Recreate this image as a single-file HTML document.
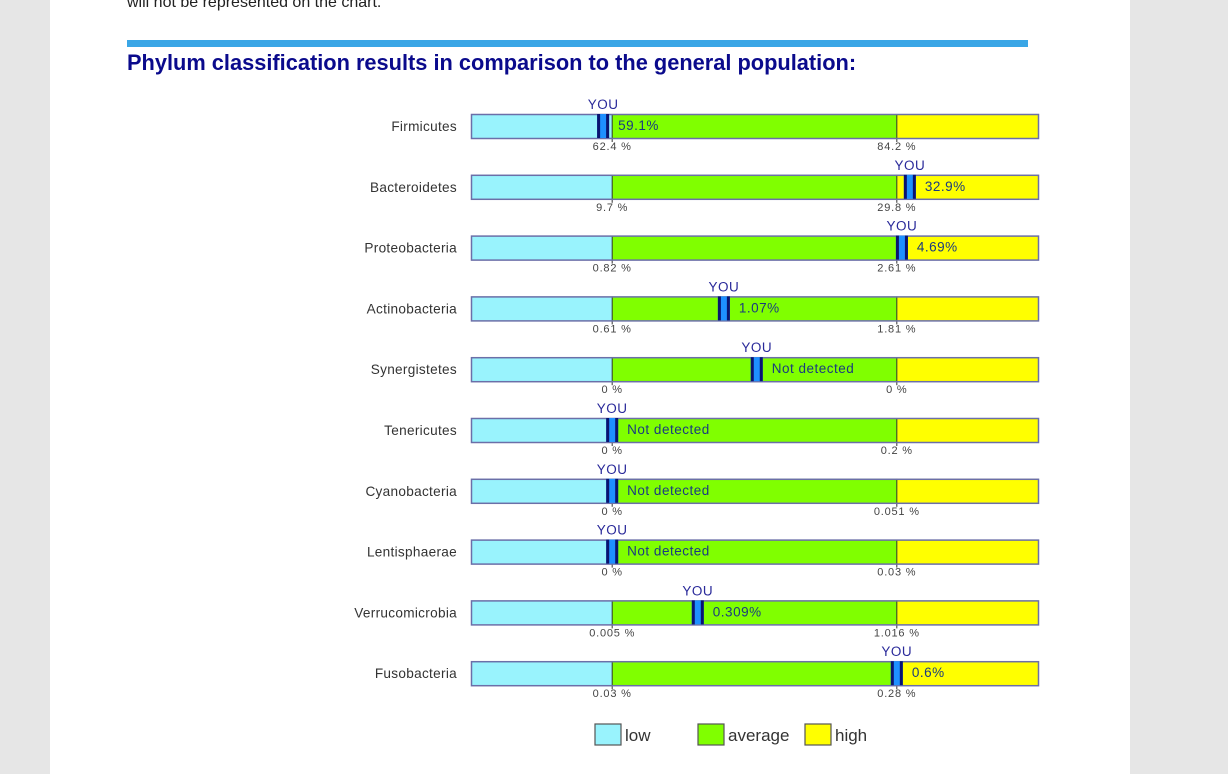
<!DOCTYPE html>
<html><head><meta charset="utf-8"><style>
html,body{margin:0;padding:0;width:1228px;height:774px;overflow:hidden;background:#e6e6e6;font-family:"Liberation Sans",sans-serif}
#page{position:absolute;left:50px;top:0;width:1080px;height:774px;background:#fff}
#intro{position:absolute;left:127px;top:-6px;font-size:16px;color:#222}
#rule{position:absolute;left:127px;top:40px;width:901px;height:7px;background:#3aa6e6}
#title{position:absolute;left:127px;top:50px;font-size:21.8px;font-weight:bold;color:#0a0a8c}
svg{position:absolute;left:0;top:0}
</style></head><body>
<div id="page"></div>
<div id="intro">will not be represented on the chart.</div>
<div id="rule"></div>
<div id="title">Phylum classification results in comparison to the general population:</div>
<svg id="chart" width="1228" height="774"></svg>
<script>
const categories=["Firmicutes","Bacteroidetes","Proteobacteria","Actinobacteria","Synergistetes","Tenericutes","Cyanobacteria","Lentisphaerae","Verrucomicrobia","Fusobacteria"];
const lowThresholdLabels=["62.4 %","9.7 %","0.82 %","0.61 %","0 %","0 %","0 %","0 %","0.005 %","0.03 %"];
const highThresholdLabels=["84.2 %","29.8 %","2.61 %","1.81 %","0 %","0.2 %","0.051 %","0.03 %","1.016 %","0.28 %"];
const valueLabels=["59.1%","32.9%","4.69%","1.07%","Not detected","Not detected","Not detected","Not detected","0.309%","0.6%"];
const markerPos=[23.3,77.4,76.0,44.6,50.4,24.9,24.9,24.9,40.0,75.1];
const lowBoundary=[24.9,24.9,24.9,24.9,24.9,24.9,24.9,24.9,24.9,24.9];
const highBoundary=[75.1,75.1,75.1,75.1,75.1,75.1,75.1,75.1,75.1,75.1];

const svg=document.getElementById('chart');
const NS='http://www.w3.org/2000/svg';
const X0=471,W=567,Y0=114,STEP=60.8,H=24;
const xs=p=>X0+p/100*W;
const ys=i=>Y0+i*STEP;
function mk(t,a,p){const e=document.createElementNS(NS,t);for(const k in a)e.setAttribute(k,a[k]);(p||svg).appendChild(e);return e;}
categories.forEach((c,i)=>{
  const y=ys(i);
  const g=mk('g',{});
  
  
  const lbl=mk('text',{x:457,y:y+17,'text-anchor':'end','font-size':13.6,fill:'#333','letter-spacing':0.3},g);lbl.textContent=c;
  
  
  const xl=xs(lowBoundary[i]),xh=xs(highBoundary[i]),xe=X0+W;
  const r1=mk('rect',{x:X0,y:y,width:xl-X0,height:H,fill:'#99f3fd'},g);
  
  
  const r2=mk('rect',{x:xl,y:y,width:xh-xl,height:H,fill:'#80ff00'},g);
  
  
  const r3=mk('rect',{x:xh,y:y,width:xe-xh,height:H,fill:'#ffff00'},g);
  
  
  mk('line',{x1:xl,y1:y,x2:xl,y2:y+H+4,stroke:'#333','stroke-width':1},g);
  mk('line',{x1:xh,y1:y,x2:xh,y2:y+H+4,stroke:'#333','stroke-width':1},g);
  mk('rect',{x:X0+0.5,y:y+0.5,width:W,height:H,fill:'none',stroke:'#6b6fa8','stroke-width':1.5},g);
  const t1=mk('text',{x:xl,y:y+H+12,'text-anchor':'middle','font-size':11,fill:'#444','letter-spacing':0.8},g);t1.textContent=lowThresholdLabels[i];
  
  
  const t2=mk('text',{x:xh,y:y+H+12,'text-anchor':'middle','font-size':11,fill:'#444','letter-spacing':0.8},g);t2.textContent=highThresholdLabels[i];
  
  
  const xm=xs(markerPos[i]);
  const m=mk('g',{},g);
  
  
  mk('rect',{x:xm-6,y:y,width:12,height:H,fill:'#1e90ff'},m);
  mk('rect',{x:xm-6,y:y,width:3,height:H,fill:'#0a1470'},m);
  mk('rect',{x:xm+3,y:y,width:3,height:H,fill:'#0a1470'},m);
  const yt=mk('text',{x:xm,y:y-5,'text-anchor':'middle','font-size':13.5,fill:'#2a2a9a','letter-spacing':0.5},m);yt.textContent='YOU';
  const vt=mk('text',{x:xm+15,y:y+16,'font-size':13.5,fill:'#1a3a80','letter-spacing':0.5},g);vt.textContent=valueLabels[i];
  
  
});
const legend=[["low","#99f3fd",595],["average","#80ff00",698],["high","#ffff00",805]];
legend.forEach(l=>{
  const g=mk('g',{});
  
  
  mk('rect',{x:l[2],y:724,width:26,height:21,fill:l[1],stroke:'#555','stroke-width':1.2},g);
  const t=mk('text',{x:l[2]+30,y:741,'font-size':17,fill:'#333'},g);t.textContent=l[0];
});
</script>
</body></html>
